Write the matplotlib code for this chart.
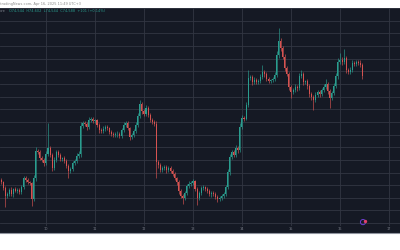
import matplotlib
matplotlib.use("Agg")
import matplotlib.pyplot as plt
import numpy as np
from matplotlib.lines import Line2D
from matplotlib.patches import Rectangle

# hourly candles, Apr 9 01:00 -> Apr 16 11:00 (UTC+3)
first_open = 70650
closes = [
    70705, 70626, 70389, 70073, 70152, 70310, 70152, 70349, 70270, 70310, 70231, 70428,
    70784, 70705, 70626, 70580, 69954, 70784, 71852, 71812, 71575, 71496, 71377, 71733,
    71970, 71693, 71179, 71496, 71812, 71693, 71535, 71575, 71456, 71259, 71061, 71140,
    71377, 71456, 71654, 71733, 72840, 72958, 72919, 72800, 73077, 73116, 73037, 73060,
    72879, 72682, 72642, 72721, 72800, 72761, 72603, 72524, 72484, 72524, 72540, 72444,
    72682, 72879, 72958, 72761, 72405, 72484, 72642, 72879, 73235, 73709, 73433, 73314,
    73551, 73275, 73077, 72998, 72919, 71417, 71298, 71100, 71179, 71219, 71100, 71179,
    71061, 70942, 70784, 70626, 70270, 70073, 69994, 70191, 70468, 70547, 70586, 70665,
    70349, 69994, 70191, 70389, 70428, 70349, 70270, 70152, 70191, 70152, 70033, 69954,
    69994, 70073, 70152, 70428, 71021, 71614, 71812, 71693, 71970, 71891, 72800, 73156,
    73120, 73670, 74737, 74760, 74579, 74658, 74579, 74619, 74777, 74974, 74895, 74698,
    74619, 74640, 74698, 74856, 75646, 76200, 75923, 75567, 75132, 74895, 74381, 74184,
    74263, 74381, 74342, 74816, 74895, 74579, 74600, 74421, 74105, 73986, 73868, 74065,
    74184, 74105, 74263, 74381, 74500, 74223, 73947, 74144, 74421, 74816, 75370, 75449,
    75370, 75528, 75053, 74974, 75053, 75330, 75300, 75370, 75340, 75251, 74816,
]
upper_wick = [
    60, 80, 50, 90, 70, 60, 100, 50, 80, 60, 70, 90,
    80, 60, 70, 50, 60, 120, 150, 80, 60, 90, 70, 100,
    990, 80, 60, 100, 70, 60, 90, 50, 70, 80, 60, 90,
    70, 60, 100, 120, 150, 90, 70, 80, 100, 60, 90, 70,
    60, 80, 70, 100, 60, 90, 50, 70, 60, 80, 90, 60,
    80, 100, 70, 60, 50, 90, 80, 100, 120, 160, 90, 70,
    110, 60, 80, 70, 90, 100, 80, 60, 90, 70, 60, 80,
    70, 60, 80, 50, 60, 70, 90, 80, 60, 100, 70, 80,
    60, 90, 70, 80, 60, 50, 70, 90, 60, 80, 70, 60,
    80, 70, 90, 60, 100, 120, 90, 80, 110, 70, 150, 120,
    90, 130, 320, 110, 80, 100, 70, 90, 120, 280, 80, 60,
    90, 70, 80, 110, 150, 510, 120, 90, 100, 80, 70, 90,
    80, 100, 60, 120, 160, 90, 70, 80, 60, 90, 70, 100,
    80, 60, 90, 110, 200, 80, 60, 90, 100, 130, 150, 280,
    100, 360, 90, 80, 120, 100, 70, 90, 80, 100, 60,
]
lower_wick = [
    70, 60, 90, 430, 80, 60, 70, 100, 50, 80, 60, 70,
    60, 90, 80, 70, 280, 90, 110, 70, 80, 60, 100, 70,
    60, 90, 120, 70, 60, 80, 70, 90, 60, 80, 280, 70,
    80, 60, 70, 90, 120, 80, 60, 100, 70, 80, 60, 90,
    70, 100, 60, 80, 70, 60, 90, 80, 70, 60, 100, 80,
    70, 60, 80, 90, 100, 70, 60, 80, 70, 90, 110, 80,
    70, 90, 60, 80, 70, 630, 120, 90, 70, 80, 100, 60,
    80, 90, 70, 100, 120, 80, 240, 90, 70, 60, 80, 70,
    90, 280, 80, 60, 90, 70, 80, 60, 100, 70, 90, 110,
    80, 60, 70, 90, 80, 100, 70, 90, 80, 100, 70, 90,
    80, 60, 90, 70, 100, 80, 60, 90, 70, 80, 110, 90,
    70, 80, 60, 90, 80, 120, 100, 90, 110, 80, 120, 240,
    90, 80, 100, 70, 80, 120, 90, 100, 110, 130, 400, 90,
    80, 100, 70, 90, 80, 110, 400, 90, 80, 70, 100, 90,
    110, 80, 130, 90, 80, 70, 100, 80, 90, 70, 120,
]
day_labels = ["10", "11", "12", "13", "14", "15", "16", "17"]
header = "tradingNews.com, Apr 16, 2025 11:49 UTC+3"
legend_prefix = "ore"
legend_values = "O74,544  H74,602  L74,544  C74,588  +101 (+0.14%)"

BG = "#151924"
GRID = "#323642"
UP = "#2a9d8f"
DOWN = "#d65351"
TEXT = "#7c808b"

closes = np.array(closes, dtype=float)
opens = np.concatenate([[first_open], closes[:-1]])
highs = np.maximum(opens, closes) + np.array(upper_wick)
lows = np.minimum(opens, closes) - np.array(lower_wick)
idx = np.arange(len(closes))
colors = np.where(closes >= opens, UP, DOWN)

fig = plt.figure(figsize=(4, 2.5), dpi=100, facecolor="white")
fig.patches.append(Rectangle((0, 0.068), 1, 0.9, transform=fig.transFigure,
                             facecolor=BG, edgecolor="none", zorder=-1))
fig.add_artist(Line2D([0, 1], [0.068, 0.068], color="#8f939e", linewidth=0.8))

ax = fig.add_axes([0, 0.096, 1, 0.872])
ax.set_zorder(1)
ax.set_facecolor(BG)
ax.set_axisbelow(True)

ax.vlines(idx, lows, highs, colors=colors, linewidth=0.45)
ax.bar(idx, np.maximum(np.abs(closes - opens), 15), bottom=np.minimum(opens, closes),
       width=0.5, color=colors, linewidth=0)

day_pos = [23 + 24 * k for k in range(len(day_labels))]
ax.set_xticks(day_pos, day_labels)
ax.set_yticks(np.arange(69000, 77501, 500))
ax.grid(True, color=GRID, linewidth=0.6)
ax.tick_params(axis="y", length=0, labelleft=False)
ax.tick_params(axis="x", length=0, pad=0.8, labelsize=2.5, labelcolor=TEXT)
ax.set_xlim(0.49, 196.4)
ax.set_ylim(68887, 77504)
for spine in ax.spines.values():
    spine.set_visible(False)

# small purple marker near the last candle
ax.scatter([0.9075], [0.018], s=14, facecolors="none", edgecolors="#6a3fd0",
           linewidths=0.7, transform=ax.transAxes, zorder=5)
ax.scatter([0.912], [0.024], s=2, color="#e0406a", transform=ax.transAxes, zorder=6)

fig.text(0.0, 0.986, header, fontsize=2.5, color="#8a8a8a", va="center", ha="left")
fig.text(0.0, 0.956, legend_prefix, fontsize=2.5, color=TEXT, va="center", ha="left",
         zorder=3)
fig.text(0.022, 0.956, legend_values, fontsize=2.5, color=UP, va="center", ha="left",
         zorder=3)

fig.savefig("out.png", dpi=100, facecolor="white")
